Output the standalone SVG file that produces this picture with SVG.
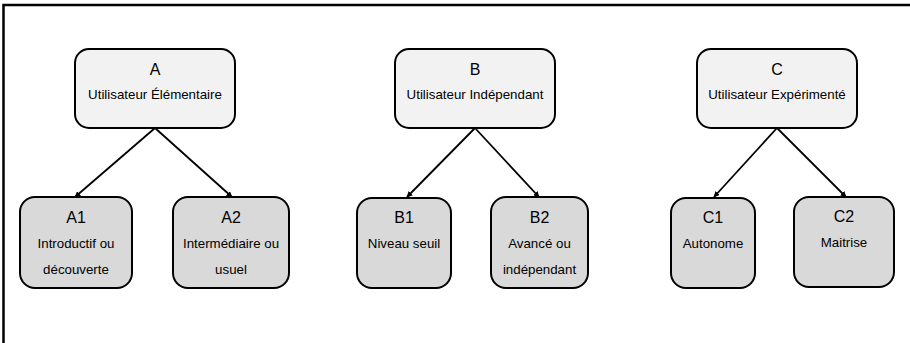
<svg xmlns="http://www.w3.org/2000/svg" width="910" height="343" viewBox="0 0 910 343">
<defs>
<marker id="ah" viewBox="0 0 10 10" refX="9" refY="5" markerWidth="6" markerHeight="6" orient="auto" markerUnits="userSpaceOnUse">
<path d="M0,0 L10,5 L0,10 z" fill="#000"/>
</marker>
<style>
.p{fill:#f2f2f2;stroke:#000;stroke-width:2}
.c{fill:#d9d9d9;stroke:#000;stroke-width:2}
.t{font-family:"Liberation Sans",Arial,sans-serif;fill:#000;text-anchor:middle}
.h{font-size:16px}
.s{font-size:13.3px}
.e{stroke:#000;stroke-width:1.8;fill:none;marker-end:url(#ah)}
</style>
</defs>
<rect width="910" height="343" fill="#fff"/>
<path d="M3.5,343 V5 H910" fill="none" stroke="#000" stroke-width="2.5"/>
<g id="connectors">
<line class="e" x1="155" y1="128" x2="75" y2="197"/>
<line class="e" x1="155" y1="128" x2="232" y2="197"/>
<line class="e" x1="475" y1="128" x2="407" y2="197"/>
<line class="e" x1="475" y1="128" x2="539" y2="197"/>
<line class="e" x1="777" y1="128" x2="714" y2="197"/>
<line class="e" x1="777" y1="128" x2="846" y2="197"/>
</g>
<g id="A">
<rect class="p" x="75" y="49" width="160" height="79" rx="14"/>
<text class="t h" x="155" y="75">A</text>
<text class="t s" x="155" y="99">Utilisateur Élémentaire</text>
</g>
<g id="B">
<rect class="p" x="395" y="49" width="160" height="79" rx="14"/>
<text class="t h" x="475" y="75">B</text>
<text class="t s" x="475" y="99">Utilisateur Indépendant</text>
</g>
<g id="C">
<rect class="p" x="697" y="49" width="160" height="79" rx="14"/>
<text class="t h" x="777" y="75">C</text>
<text class="t s" x="777" y="99">Utilisateur Expérimenté</text>
</g>
<g id="A1">
<rect class="c" x="20" y="197" width="112" height="91" rx="15"/>
<text class="t h" x="76" y="223">A1</text>
<text class="t s" x="76" y="248">Introductif ou</text>
<text class="t s" x="76" y="274">découverte</text>
</g>
<g id="A2">
<rect class="c" x="173" y="197" width="116" height="91" rx="15"/>
<text class="t h" x="231" y="223">A2</text>
<text class="t s" x="231" y="248">Intermédiaire ou</text>
<text class="t s" x="231" y="274">usuel</text>
</g>
<g id="B1">
<rect class="c" x="357" y="198" width="94" height="90" rx="15"/>
<text class="t h" x="404" y="223">B1</text>
<text class="t s" x="404" y="248">Niveau seuil</text>
</g>
<g id="B2">
<rect class="c" x="491" y="197" width="97" height="91" rx="15"/>
<text class="t h" x="539.5" y="223">B2</text>
<text class="t s" x="539.5" y="248">Avancé ou</text>
<text class="t s" x="539.5" y="274">indépendant</text>
</g>
<g id="C1">
<rect class="c" x="671" y="198" width="84" height="90" rx="15"/>
<text class="t h" x="713" y="223">C1</text>
<text class="t s" x="713" y="248">Autonome</text>
</g>
<g id="C2">
<rect class="c" x="794" y="197" width="100" height="90" rx="15"/>
<text class="t h" x="844" y="222">C2</text>
<text class="t s" x="844" y="247">Maitrise</text>
</g>
</svg>
